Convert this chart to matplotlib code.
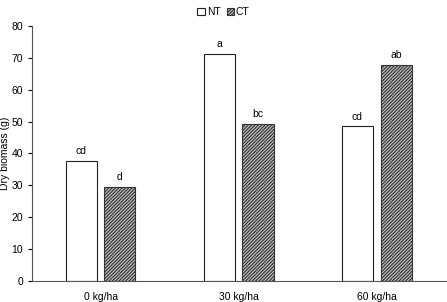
import numpy as np
import matplotlib
matplotlib.use("Agg")
from matplotlib import pyplot as plt

# data
categories = ["0 kg/ha", "30 kg/ha", "60 kg/ha"]
nt_values = [37.6, 71.2, 48.5]
ct_values = [29.5, 49.2, 67.7]
nt_letters = ["cd", "a", "cd"]
ct_letters = ["d", "bc", "ab"]

plt.rcParams['font.family'] = ['Liberation Sans', 'DejaVu Sans']
plt.rcParams['hatch.linewidth'] = 0.8
plt.rcParams['font.size'] = 7.5

fig = plt.figure(figsize=(4.47, 3.02), dpi=100)
ax = fig.add_axes([0.0705, 0.0695, 0.927, 0.8445])

x = np.arange(len(categories))
w = 0.225
off = 0.14
b1 = ax.bar(x - off, nt_values, w, color='white', edgecolor='#222222', linewidth=0.8, label='NT')
b2 = ax.bar(x + off, ct_values, w, color='#bbbbbb', edgecolor='#333333', hatch='//////////', linewidth=0.8, label='CT')

for xi, v, t in zip(x - off, nt_values, nt_letters):
    ax.text(xi, v + 1.5, t, ha='center', va='bottom', fontsize=7.5)
for xi, v, t in zip(x + off, ct_values, ct_letters):
    ax.text(xi, v + 1.5, t, ha='center', va='bottom', fontsize=7.5)

ax.set_xlim(-0.5, 2.5)
ax.set_ylim(0, 80)
ax.set_yticks(range(0, 81, 10))
ax.set_xticks(x)
ax.set_xticklabels(categories)
ax.tick_params(axis='x', length=0, pad=8, labelsize=7.5)
ax.tick_params(axis='y', length=3, width=0.8, pad=3, labelsize=7.5)
ax.spines['top'].set_visible(False)
ax.spines['right'].set_visible(False)
ax.spines['left'].set_color('#555555')
ax.spines['bottom'].set_color('#555555')
ax.set_ylabel('Dry biomass (g)', fontsize=7.5, labelpad=1)

fig.legend(handles=[b1, b2], labels=['NT', 'CT'], loc='center', bbox_to_anchor=(0.5, 0.96),
           ncol=2, frameon=False, fontsize=7.5, handlelength=0.7, handleheight=0.7,
           handletextpad=0.2, columnspacing=0.6)

fig.savefig('out.png', dpi=100)
